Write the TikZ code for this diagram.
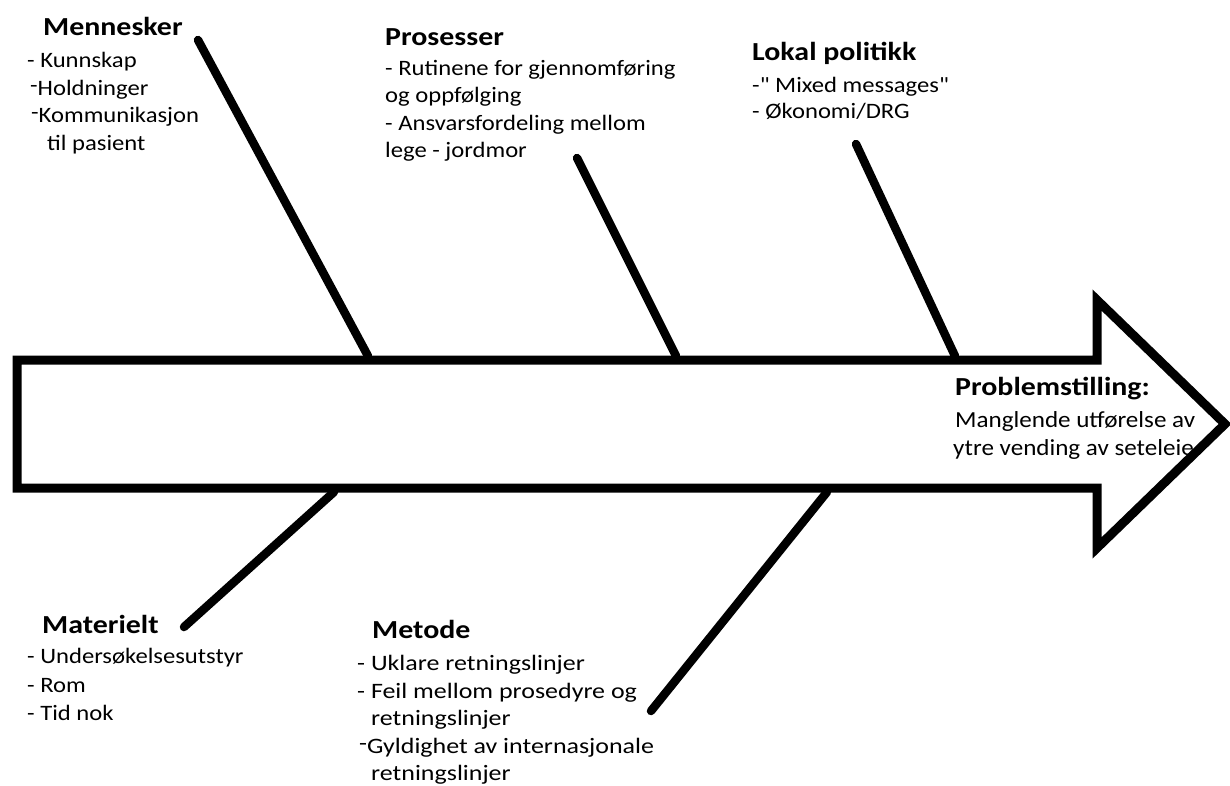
\documentclass[tikz,border=0pt]{standalone}
\usepackage{fontspec}
\setmainfont{Carlito}
\newfontfamily\bodyf[FakeStretch=1.12]{Carlito}
\newfontfamily\bodyw[FakeStretch=1.18]{Carlito}
\newfontfamily\bodyp[FakeStretch=1.09]{Carlito}
\newfontfamily\headf[FakeStretch=1.15]{Carlito}
\newcommand{\hidash}{\raisebox{2.5pt}{-}}
\begin{document}
\begin{tikzpicture}[x=1pt,y=-1pt,
  txt/.style={anchor=base west,inner sep=0pt,font=\bodyf\fontsize{22}{26}\selectfont},
  txtw/.style={anchor=base west,inner sep=0pt,font=\bodyw\fontsize{22}{26}\selectfont},
  txtp/.style={anchor=base west,inner sep=0pt,font=\bodyp\fontsize{23}{28}\selectfont},
  head/.style={anchor=base west,inner sep=0pt,font=\headf\fontsize{26}{30}\selectfont\bfseries},
  bone/.style={line width=8.5pt,line cap=round},
  spine/.style={line width=9pt,line join=miter}]
\useasboundingbox (0,0) rectangle (1230,785);
% main arrow
\draw[spine] (17,360) -- (1097,360) -- (1097,300) -- (1225,424) -- (1097,548) -- (1097,488) -- (17,488) -- cycle;
% bone coordinates
\coordinate (m1) at (198,40);  \coordinate (m2) at (368,356);
\coordinate (p1) at (577,158); \coordinate (p2) at (676,356);
\coordinate (l1) at (856,144); \coordinate (l2) at (955,356);
\coordinate (ma1) at (184,627); \coordinate (ma2) at (334,492);
\coordinate (me1) at (651,711); \coordinate (me2) at (827,492);
\draw[bone] (m1) -- (m2);
\draw[bone] (p1) -- (p2);
\draw[bone] (l1) -- (l2);
\draw[bone] (ma1) -- (ma2);
\draw[bone] (me1) -- (me2);
% Mennesker
\node[head] (mh) at (43,35) {Mennesker};
\node[txt] (m1t) at (27,67) {- Kunnskap};
\node[txt] (m2t) at (30,95) {\hidash Holdninger};
\node[txt] (m3t) at (31,122) {\hidash Kommunikasjon};
\node[txt] (m4t) at (47,150) {til pasient};
% Prosesser
\node[head] (ph) at (385,45) {Prosesser};
\node[txt] (p1t) at (385,75) {- Rutinene for gjennomføring};
\node[txt] (p2t) at (385,102) {og oppfølging};
\node[txt] (p3t) at (385,130) {- Ansvarsfordeling mellom};
\node[txt] (p4t) at (385,157) {lege - jordmor};
% Lokal politikk
\node[head] (lh) at (752,60) {Lokal politikk};
\node[txt] (l1t) at (752,92) {-\symbol{34} Mixed messages\symbol{34}};
\node[txt] (l2t) at (752,118) {- Økonomi/DRG};
% Problemstilling
\node[head] (prh) at (955,395) {Problemstilling:};
\node[txtp] (pr1t) at (955,427) {Manglende utførelse av};
\node[txtp] (pr2t) at (953,455) {ytre vending av seteleie};
% Materielt
\node[head] (mah) at (42,633) {Materielt};
\node[txt] (ma1t) at (27,663) {- Undersøkelsesutstyr};
\node[txt] (ma2t) at (27,692) {- Rom};
\node[txt] (ma3t) at (27,720) {- Tid nok};
% Metode
\node[head] (meh) at (372,638) {Metode};
\node[txtw] (me1t) at (357,670) {- Uklare retningslinjer};
\node[txtw] (me2t) at (357,698) {- Feil mellom prosedyre og};
\node[txtw] (me3t) at (371,725) {retningslinjer};
\node[txtw] (me4t) at (359,753) {\hidash Gyldighet av internasjonale};
\node[txtw] (me5t) at (371,780) {retningslinjer};
\end{tikzpicture}
\end{document}
